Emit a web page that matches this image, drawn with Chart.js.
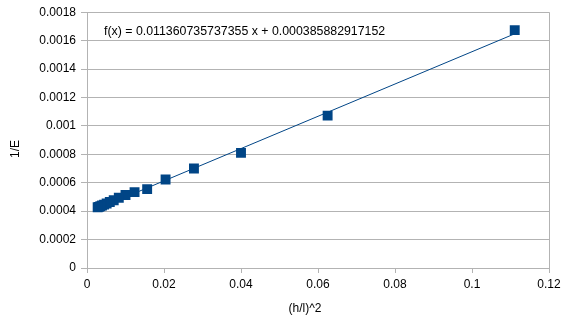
<!DOCTYPE html>
<html>
<head>
<meta charset="utf-8">
<script src="https://cdn.jsdelivr.net/npm/chart.js@4/dist/chart.umd.min.js"></script>
<style>
html,body{margin:0;padding:0;background:#fff;}
#wrap{width:566px;height:323px;position:relative;}
</style>
</head>
<body>
<div id="wrap"><canvas id="c" width="566" height="323"></canvas></div>
<script>
const xValues = [0.1111, 0.0625, 0.04, 0.02778, 0.02041, 0.015625, 0.01235, 0.01, 0.00826, 0.00694, 0.00592, 0.0051, 0.00444, 0.0039, 0.00346, 0.00309, 0.00277];
const yValues = [0.001674, 0.001072, 0.00081, 0.0007, 0.000623, 0.000555, 0.000534, 0.000514, 0.000494, 0.000477, 0.000464, 0.000454, 0.000446, 0.00044, 0.000434, 0.00043, 0.000427];
const trendSlope = [0.011360735737355];
const trendIntercept = [0.000385882917152];
const trendText = ['f(x) = 0.011360735737355 x + 0.000385882917152'];
const xTickLabels = ['0', '0.02', '0.04', '0.06', '0.08', '0.1', '0.12'];
const yTickLabels = ['0', '0.0002', '0.0004', '0.0006', '0.0008', '0.001', '0.0012', '0.0014', '0.0016', '0.0018'];
const xTitle = '(h/l)^2';
const yTitle = '1/E';

const points = xValues.map((x, i) => ({x: x, y: yValues[i]}));
const xMin = Math.min(...xValues), xMax = Math.max(...xValues);
const trend = [xMin, xMax].map(x => ({x: x, y: trendSlope[0] * x + trendIntercept[0]}));

const FONT = '"Liberation Sans", Arial, sans-serif';
const GRID = '#b3b3b3';

const textPlugin = {
  id: 'texts',
  afterDraw(chart) {
    const ctx = chart.ctx;
    ctx.save();
    ctx.fillStyle = '#000';
    ctx.font = '12.35px ' + FONT;
    ctx.textAlign = 'left';
    ctx.textBaseline = 'middle';
    ctx.fillText(trendText[0], 104, 32);
    ctx.font = '12px ' + FONT;
    ctx.textAlign = 'center';
    ctx.fillText(xTitle, 305, 309);
    ctx.translate(16, 149);
    ctx.rotate(-Math.PI / 2);
    ctx.fillText(yTitle, 0, 0);
    ctx.restore();
  }
};

new Chart(document.getElementById('c'), {
  type: 'scatter',
  data: {
    datasets: [
      {
        data: points,
        order: 0,
        pointStyle: 'rect',
        pointRadius: 7,
        pointHoverRadius: 7,
        pointBackgroundColor: '#004586',
        pointBorderWidth: 0,
        showLine: false
      },
      {
        type: 'line',
        data: trend,
        order: 1,
        borderColor: '#004586',
        borderWidth: 1,
        pointRadius: 0,
        fill: false
      }
    ]
  },
  options: {
    responsive: false,
    animation: false,
    devicePixelRatio: 1,
    layout: {padding: {left: 0, right: 17, top: 11, bottom: 0}},
    plugins: {legend: {display: false}, tooltip: {enabled: false}},
    scales: {
      x: {
        type: 'linear',
        min: 0, max: 0.12,
        afterFit(s) { s.height = 55; },
        ticks: {
          stepSize: 0.02,
          color: '#000',
          font: {family: FONT, size: 12},
          padding: 4,
          maxRotation: 0,
          callback: (v, i) => xTickLabels[i]
        },
        grid: {
          color: (c) => (c.index === xTickLabels.length - 1 ? GRID : 'rgba(0,0,0,0)'),
          tickColor: GRID,
          tickLength: 5,
          drawTicks: true
        },
        border: {color: GRID, width: 1}
      },
      y: {
        type: 'linear',
        min: 0, max: 0.0018,
        afterFit(s) { s.width = 87; },
        ticks: {
          stepSize: 0.0002,
          color: '#000',
          font: {family: FONT, size: 12},
          padding: 5,
          callback: (v, i) => yTickLabels[i]
        },
        grid: {color: GRID, tickColor: GRID, tickLength: 6},
        border: {color: GRID, width: 1}
      }
    }
  },
  plugins: [textPlugin]
});
</script>
</body>
</html>
